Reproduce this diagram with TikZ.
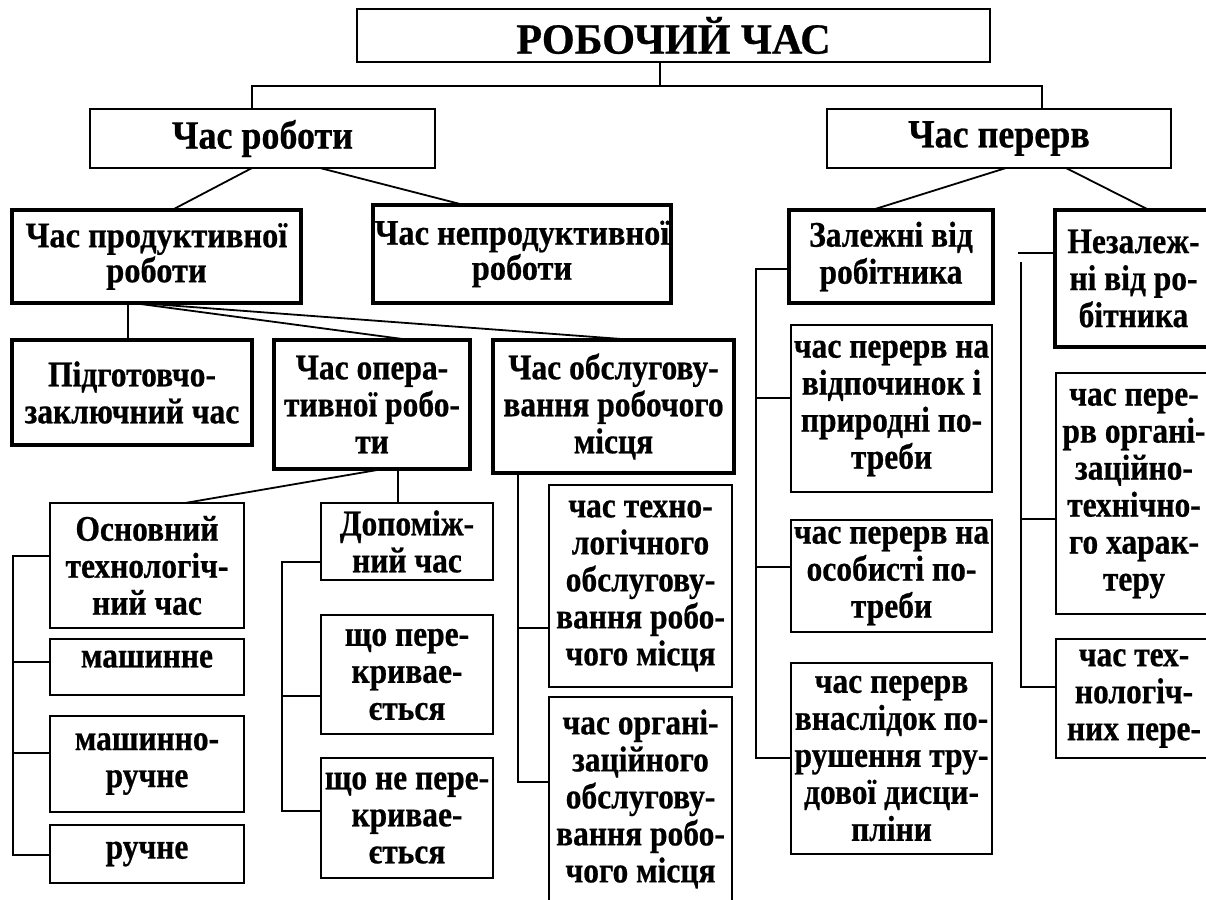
\documentclass[tikz,border=0pt]{standalone}
\usepackage{fontspec}
\setmainfont{Liberation Serif}
\newfontfamily\lowfont{Liberation Serif Bold}[FakeStretch=0.875,FakeBold=0.6]
\newfontfamily\twofont{Liberation Serif Bold}[FakeStretch=0.9,FakeBold=0.6]
\newfontfamily\onefont{Liberation Serif Bold}[FakeStretch=0.9,FakeBold=0.6]
\newfontfamily\zerofont{Liberation Serif Bold}[FakeStretch=0.98,FakeBold=0.6]
\newcommand\bx[7]{\node[#1, minimum width={#5-#3}, minimum height={#6-#4}] (#2) at ({(#3+#5)/2},{(#4+#6)/2}) {#7};}
\tikzset{
  base/.style={draw, line width=1.8pt, inner sep=0pt, outer sep=0pt, align=center,
    font=\lowfont\fontsize{36}{37}\selectfont},
  bxthick/.style={base, line width=4.2pt},
  fzero/.style={font=\zerofont\fontsize{43}{44}\selectfont},
  fone/.style={font=\onefont\fontsize{40}{42}\selectfont},
  ftwo/.style={font=\twofont\fontsize{36}{35}\selectfont},
  conn/.style={line width=1.8pt},
}
\begin{document}
\begin{tikzpicture}[x=1pt,y=-1pt]
\useasboundingbox (0,0) rectangle (1206,899);
\fill[white] (0,0) rectangle (1206,899);
\clip (0,0) rectangle (1206,899);
% level 0 / 1
\bx{base,fzero}{top}{357}{9}{990}{62}{РОБОЧИЙ ЧАС}
\bx{base,fone}{r1}{90}{109}{435}{168}{Час роботи}
\bx{base,fone}{r2}{827}{109}{1171}{168}{Час перерв}
% level 2
\bx{bxthick,ftwo}{prod}{12}{210}{301}{303}{Час продуктивної\\роботи}
\bx{bxthick,ftwo}{nonprod}{373}{205}{671}{303}{Час непродуктивної\\роботи}
\bx{bxthick}{zal}{789}{210}{993}{303}{Залежні від\\робітника}
\bx{bxthick}{nezal}{1055}{210}{1212}{347}{Незалеж-\\ні від ро-\\бітника}
% level 3
\bx{bxthick}{pidg}{12}{340}{252}{445}{Підготовчо-\\заключний час}
\bx{bxthick}{oper}{274}{340}{470}{469}{Час опера-\\тивної робо-\\ти}
\bx{bxthick}{obsl}{493}{340}{734}{473}{Час обслугову-\\вання робочого\\місця}
% level 4
\bx{base}{osn}{50}{503}{244}{628}{Основний\\технологіч-\\ний час}
\bx{base}{mash}{50}{639}{244}{695}{машинне\rule[-16pt]{0pt}{16pt}}
\bx{base}{mr}{50}{716}{244}{812}{машинно-\\ручне}
\bx{base}{ruch}{50}{825}{244}{883}{ручне}
\bx{base}{dop}{321}{503}{493}{580}{Допоміж-\\ний час}
\bx{base}{sp1}{321}{615}{493}{734}{що пере-\\кривае-\\ється}
\bx{base}{sp2}{321}{758}{493}{878}{що не пере-\\кривае-\\ється}
\bx{base}{tech}{549}{485}{732}{687}{час техно-\\логічного\\обслугову-\\вання робо-\\чого місця}
\bx{base}{org}{549}{697}{732}{901}{час органі-\\заційного\\обслугову-\\вання робо-\\чого місця}
\bx{base}{vidp}{791}{325}{992}{492}{час перерв на\\відпочинок і\\природні по-\\треби}
\bx{base}{osob}{791}{520}{992}{632}{час перерв на\\особисті по-\\треби}
\bx{base}{vnasl}{791}{663}{992}{854}{час перерв\\внаслідок по-\\рушення тру-\\дової дисци-\\пліни}
\bx{base}{orgtech}{1056}{373}{1212}{614}{час пере-\\рв органі-\\заційно-\\технічно-\\го харак-\\теру}
\bx{base}{techper}{1056}{639}{1212}{758}{час тех-\\нологіч-\\них пере-}
% connectors
\coordinate (hub) at (660,86);
\draw[conn] (top.south -| hub) -- (hub);
\draw[conn] (r1.north -| 252,0) |- (hub) -| (r2.north -| 1042,0);
\draw[conn] (r1.south -| 252,0) -- (prod.north -| 172,0);
\draw[conn] (r1.south -| 320,0) -- (nonprod.north -| 464,0);
\draw[conn] (r2.south -| 1006,0) -- (zal.north -| 872,0);
\draw[conn] (r2.south -| 1066,0) -- (nezal.north -| 1149,0);
\draw[conn] (prod.south -| 128,0) -- (pidg.north -| 128,0);
\draw[conn] (prod.south -| 133,0) -- (oper.north -| 410,0);
\draw[conn] (prod.south -| 138,0) -- (obsl.north -| 635,0);
\draw[conn] (oper.south -| 383,0) -- (osn.north -| 185,0);
\draw[conn] (oper.south -| 398,0) -- (dop.north -| 398,0);
% spines
\coordinate (spA) at (13,0);
\draw[conn] (osn.west |- 0,556) -- (spA |- 0,556) |- (ruch.west |- 0,855);
\draw[conn] (spA |- 0,662) -- (mash.west |- 0,662);
\draw[conn] (spA |- 0,753) -- (mr.west |- 0,753);
\coordinate (spB) at (282,0);
\draw[conn] (dop.west |- 0,562) -- (spB |- 0,562) |- (sp2.west |- 0,811);
\draw[conn] (spB |- 0,696) -- (sp1.west |- 0,696);
\coordinate (spC) at (518,0);
\draw[conn] (obsl.south -| spC) |- (org.west |- 0,782);
\draw[conn] (spC |- 0,628) -- (tech.west |- 0,628);
\coordinate (spD) at (756,0);
\draw[conn] (zal.west |- 0,269) -- (spD |- 0,269) |- (vnasl.west |- 0,758);
\draw[conn] (spD |- 0,398) -- (vidp.west |- 0,398);
\draw[conn] (spD |- 0,567) -- (osob.west |- 0,567);
\coordinate (spE) at (1021,0);
\draw[conn] (nezal.west |- 0,253) -- ([xshift=-3pt]spE |- 0,253);
\draw[conn] (spE |- 0,262) |- (techper.west |- 0,687);
\draw[conn] (spE |- 0,519) -- (orgtech.west |- 0,519);
\end{tikzpicture}
\end{document}
